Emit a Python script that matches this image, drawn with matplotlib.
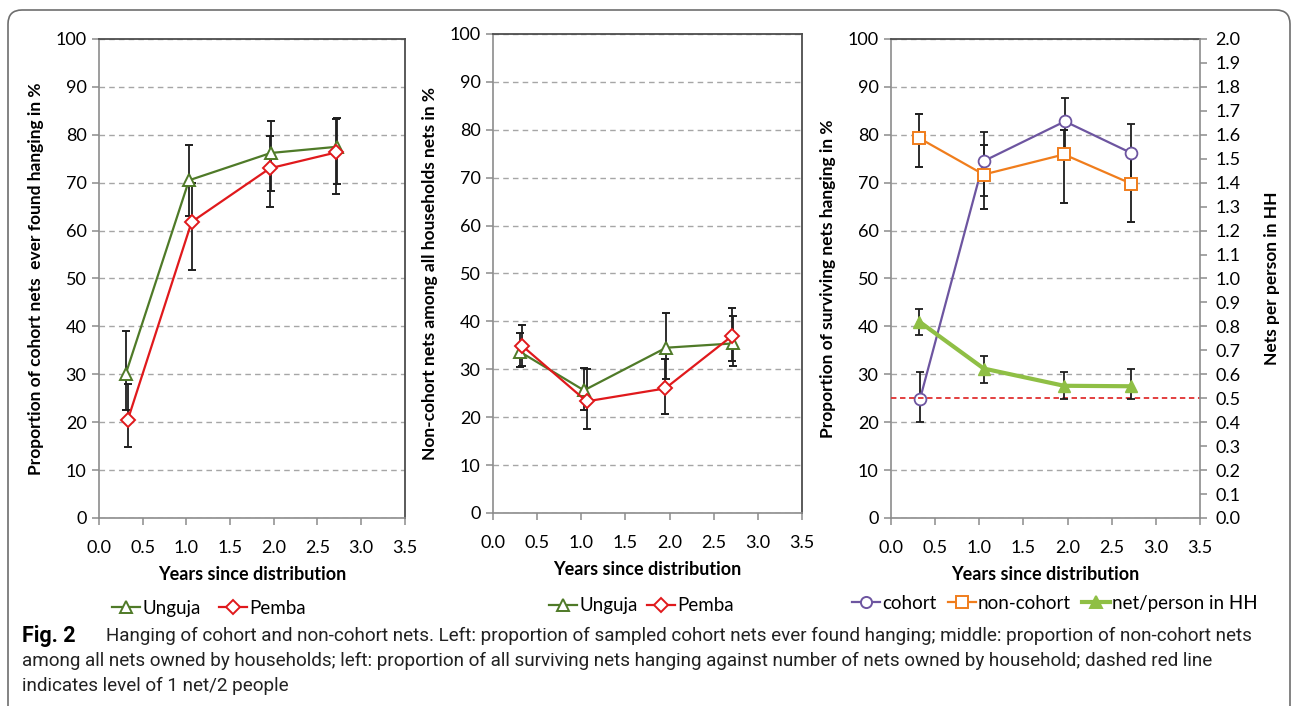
import matplotlib
matplotlib.use('Agg')
import matplotlib.pyplot as plt
from matplotlib.lines import Line2D
from matplotlib.patches import FancyBboxPatch
import numpy as np

plt.rcParams['font.family'] = ['Lato', 'DejaVu Sans']

# ---- data ----
years_ticks = [0.0, 0.5, 1.0, 1.5, 2.0, 2.5, 3.0, 3.5]

# left: cohort nets ever found hanging (%)
left_x_ung = [0.305, 1.03, 1.965, 2.725]
left_ung = [30.0, 70.5, 76.2, 77.5]
left_ung_lo = [22.5, 63.0, 68.2, 69.8]
left_ung_hi = [39.0, 77.8, 82.8, 83.6]
left_x_pem = [0.33, 1.06, 1.955, 2.71]
left_pem = [20.5, 61.8, 73.0, 76.3]
left_pem_lo = [14.8, 51.8, 65.0, 67.7]
left_pem_hi = [28.0, 70.0, 79.8, 83.3]

# middle: non-cohort nets among all household nets (%)
mid_x_ung = [0.30, 1.03, 1.96, 2.72]
mid_ung = [33.7, 25.6, 34.5, 35.4]
mid_ung_lo = [30.5, 21.5, 28.0, 30.6]
mid_ung_hi = [37.5, 30.3, 41.7, 41.1]
mid_x_pem = [0.33, 1.06, 1.95, 2.71]
mid_pem = [34.9, 23.3, 26.0, 37.0]
mid_pem_lo = [30.7, 17.6, 20.7, 31.7]
mid_pem_hi = [39.2, 30.0, 32.2, 42.8]

# right: surviving nets hanging (%) and nets per person
x_coh = [0.33, 1.05, 1.97, 2.72]
coh = [24.9, 74.5, 82.8, 76.2]
coh_lo = [20.1, 67.2, 76.0, 69.5]
coh_hi = [30.4, 80.6, 87.6, 82.3]
x_non = [0.32, 1.05, 1.96, 2.72]
non = [79.3, 71.7, 75.9, 69.8]
non_lo = [73.2, 64.6, 65.8, 61.8]
non_hi = [84.3, 77.8, 81.0, 76.0]
x_npp = [0.32, 1.05, 1.96, 2.72]
npp = [0.82, 0.624, 0.552, 0.550]
npp_lo = [0.764, 0.564, 0.496, 0.496]
npp_hi = [0.872, 0.678, 0.608, 0.620]
target_npp = 0.5

GREEN = '#4f7a28'
RED = '#e0191c'
PURPLE = '#6d55a0'
ORANGE = '#f07d1c'
LGREEN = '#8fbf45'
ERR = '#1e1e1e'
AX_GRAY = '#8c8c8c'
FRAME = '#4d4d4d'

TICK_FS = 13
LAB_FS = 12.5


def style_axes(ax):
    ax.set_xlim(0, 3.5)
    ax.set_ylim(0, 100)
    ax.set_xticks(years_ticks)
    ax.set_xticklabels(['%.1f' % t for t in years_ticks])
    ax.set_yticks(range(0, 101, 10))
    ax.yaxis.grid(True, color='#a6a6a6', linestyle=(0, (4, 3)), linewidth=1.0)
    ax.set_axisbelow(True)
    for s in ['left', 'bottom']:
        ax.spines[s].set_color(AX_GRAY)
        ax.spines[s].set_linewidth(1.2)
    for s in ['top', 'right']:
        ax.spines[s].set_color(FRAME)
        ax.spines[s].set_linewidth(1.3)
    ax.tick_params(axis='both', direction='out', length=5, width=1.1,
                   color=AX_GRAY, labelsize=TICK_FS, pad=4)
    ax.tick_params(axis='x', pad=11)
    ax.set_xlabel('Years since distribution', fontsize=LAB_FS + 0.5,
                  fontweight='bold', labelpad=7)


def err(ax, x, y, lo, hi, fmt, color, **kw):
    y = np.array(y)
    yerr = [y - np.array(lo), np.array(hi) - y]
    ax.errorbar(x, y, yerr=yerr, fmt=fmt, color=color, ecolor=ERR,
                elinewidth=1.3, capsize=3, capthick=1.3, **kw)


fig = plt.figure(figsize=(12.92, 7.06), dpi=100)

ax1 = fig.add_axes([0.0766, 0.2663, 0.2368, 0.6785])
ax2 = fig.add_axes([0.3816, 0.2734, 0.2392, 0.6785])
ax3 = fig.add_axes([0.6896, 0.2663, 0.2392, 0.6785])

for ax in (ax1, ax2, ax3):
    style_axes(ax)

# left panel
err(ax1, left_x_ung, left_ung, left_ung_lo, left_ung_hi, '-^', GREEN,
    lw=1.6, ms=9, mfc='white', mec=GREEN, mew=1.4)
err(ax1, left_x_pem, left_pem, left_pem_lo, left_pem_hi, '-D', RED,
    lw=1.6, ms=7.5, mfc='white', mec=RED, mew=1.4)
ax1.set_ylabel('Proportion of cohort nets  ever found hanging in %',
               fontsize=LAB_FS, fontweight='bold', labelpad=8)

# middle panel
err(ax2, mid_x_ung, mid_ung, mid_ung_lo, mid_ung_hi, '-^', GREEN,
    lw=1.6, ms=9, mfc='white', mec=GREEN, mew=1.4)
err(ax2, mid_x_pem, mid_pem, mid_pem_lo, mid_pem_hi, '-D', RED,
    lw=1.6, ms=7.5, mfc='white', mec=RED, mew=1.4)
ax2.set_ylabel('Non-cohort nets among all households nets in %',
               fontsize=LAB_FS, fontweight='bold', labelpad=8)

# right panel
err(ax3, x_coh, coh, coh_lo, coh_hi, '-o', PURPLE,
    lw=1.6, ms=8.5, mfc='white', mec=PURPLE, mew=1.3)
err(ax3, x_non, non, non_lo, non_hi, '-s', ORANGE,
    lw=1.6, ms=8, mfc='white', mec=ORANGE, mew=1.4)
ax3.set_ylabel('Proportion of surviving nets hanging in %',
               fontsize=LAB_FS, fontweight='bold', labelpad=8)
ax3.spines['right'].set_visible(False)

ax3b = ax3.twinx()
ax3b.set_ylim(0, 2.0)
rticks = np.round(np.arange(0, 2.01, 0.1), 1)
ax3b.set_yticks(rticks)
ax3b.set_yticklabels(['%.1f' % t for t in rticks])
ax3b.tick_params(axis='y', direction='out', length=5, width=1.1,
                 color=AX_GRAY, labelsize=TICK_FS, pad=6)
for s in ['left', 'bottom', 'top']:
    ax3b.spines[s].set_visible(False)
ax3b.spines['right'].set_color(AX_GRAY)
ax3b.spines['right'].set_linewidth(1.2)
ax3b.axhline(target_npp, color='#e03030', linestyle=(0, (3, 2)), lw=1.3, zorder=1)
err(ax3b, x_npp, npp, npp_lo, npp_hi, '-^', LGREEN,
    lw=3.0, ms=8, mfc=LGREEN, mec=LGREEN)
ax3b.set_ylabel('Nets per person in HH', fontsize=LAB_FS, fontweight='bold',
                labelpad=17)

# legends
def handle(marker, color, filled=False, lw=1.6, ms=8):
    return Line2D([], [], color=color, marker=marker, lw=lw, ms=ms,
                  mfc=color if filled else 'white', mec=color, mew=1.4)

leg_kw = dict(frameon=False, fontsize=13.5, handlelength=1.5, handletextpad=0.1,
              borderaxespad=0, loc='upper center')
ax1.legend([handle('^', GREEN, ms=9), handle('D', RED, ms=7)], ['Unguja', 'Pemba'],
           ncol=2, columnspacing=1.0, bbox_to_anchor=(0.36, -0.155), **leg_kw)
ax2.legend([handle('^', GREEN, ms=9), handle('D', RED, ms=7)], ['Unguja', 'Pemba'],
           ncol=2, columnspacing=0.5, bbox_to_anchor=(0.48, -0.16), **leg_kw)
ax3.legend([handle('o', PURPLE), handle('s', ORANGE), handle('^', LGREEN, True, lw=3)],
           ['cohort', 'non-cohort', 'net/person in HH'],
           ncol=3, columnspacing=0.6, bbox_to_anchor=(0.53, -0.145), **leg_kw)

# caption
cap_family = ['Roboto', 'DejaVu Sans']
CAP_FS = 13.6
fig.text(22 / 1292, 1 - 636 / 706, 'Fig. 2', fontsize=15.5, fontweight='bold',
         va='center', family=cap_family)
fig.text(106 / 1292, 1 - 636 / 706,
         'Hanging of cohort and non-cohort nets. Left: proportion of sampled cohort nets '
         'ever found hanging; middle: proportion of non-cohort nets',
         fontsize=CAP_FS, va='center', family=cap_family, color='#222222')
fig.text(22 / 1292, 1 - 661 / 706,
         'among all nets owned by households; left: proportion of all surviving nets hanging '
         'against number of nets owned by household; dashed red line',
         fontsize=CAP_FS, va='center', family=cap_family, color='#222222')
fig.text(22 / 1292, 1 - 686 / 706, 'indicates level of 1 net/2 people',
         fontsize=CAP_FS, va='center', family=cap_family, color='#222222')

# rounded frame around the figure
frame = FancyBboxPatch((8, -30), 1282, 706 - 10 + 30,
                       boxstyle='round,pad=0,rounding_size=14',
                       transform=None, fill=False, edgecolor='#6e6e6e', lw=1.2)
fig.add_artist(frame)

fig.savefig('out.png', dpi=100)
